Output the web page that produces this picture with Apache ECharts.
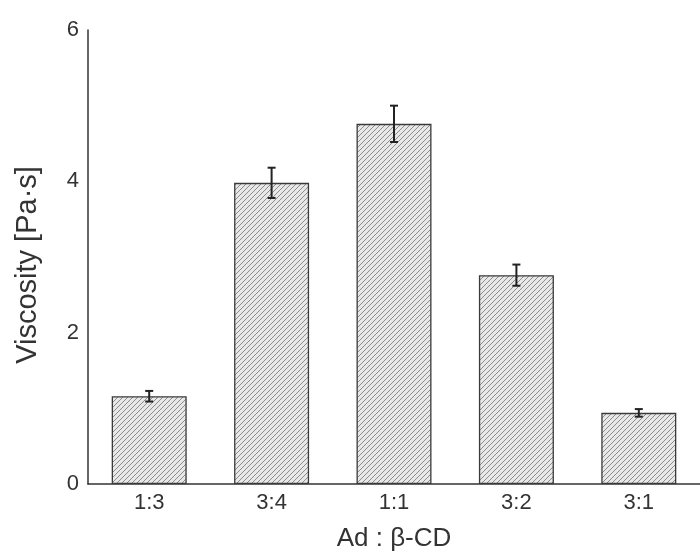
<!DOCTYPE html>
<html>
<head>
<meta charset="utf-8">
<script src="https://cdn.jsdelivr.net/npm/echarts@6/dist/echarts.min.js"></script>
<style>
  html, body { margin: 0; padding: 0; background: #fff; }
  #chart { width: 700px; height: 554px; }
</style>
</head>
<body>
<div id="chart"></div>
<script>
// data
var ratios = ['1:3', '3:4', '1:1', '3:2', '3:1'];
var viscosity = [1.16, 3.98, 4.76, 2.76, 0.94];
var errors = [0.07, 0.20, 0.24, 0.14, 0.05];
var yTicks = [0, 2, 4, 6];

// hatch pattern for the bars
function hatch() {
  var c = document.createElement('canvas');
  c.width = 5;
  c.height = 5;
  var ctx = c.getContext('2d');
  ctx.fillStyle = '#e8e8e8';
  ctx.fillRect(0, 0, 5, 5);
  ctx.strokeStyle = '#8c8c8c';
  ctx.lineWidth = 1;
  ctx.beginPath();
  ctx.moveTo(0, 5); ctx.lineTo(5, 0);
  ctx.moveTo(-2.5, 2.5); ctx.lineTo(2.5, -2.5);
  ctx.moveTo(2.5, 7.5); ctx.lineTo(7.5, 2.5);
  ctx.stroke();
  return c;
}

var errData = ratios.map(function (r, i) {
  return [i, viscosity[i] - errors[i], viscosity[i] + errors[i]];
});

var chart = echarts.init(document.getElementById('chart'));
var option = {
  animation: false,
  textStyle: { fontFamily: 'Liberation Sans' },
  grid: { left: 88, right: 0, top: 30, bottom: 70, outerBoundsMode: 'none', containLabel: false },
  xAxis: {
    type: 'category',
    data: ratios,
    name: 'Ad : β-CD',
    nameLocation: 'middle',
    nameGap: 42,
    nameTextStyle: { fontSize: 26, color: '#333' },
    axisLine: { lineStyle: { color: '#333', width: 1.5 } },
    axisTick: { show: false },
    axisLabel: { fontSize: 22, color: '#333', margin: 8 }
  },
  yAxis: {
    type: 'value',
    min: 0,
    max: 6,
    interval: 2,
    name: 'Viscosity [Pa·s]',
    nameLocation: 'middle',
    nameGap: 46,
    nameTextStyle: { fontSize: 29, color: '#333', padding: [0, 16, 0, 0] },
    axisLine: { show: true, lineStyle: { color: '#333', width: 1.5 } },
    axisTick: { show: false },
    splitLine: { show: false },
    axisLabel: {
      fontSize: 22, color: '#333', margin: 9,
      formatter: function (v) { return yTicks.indexOf(v) >= 0 ? v : ''; }
    }
  },
  series: [
    {
      type: 'bar',
      data: viscosity,
      barWidth: 75,
      itemStyle: {
        color: { image: hatch(), repeat: 'repeat' },
        borderColor: '#3a3a3a',
        borderWidth: 1.3
      }
    },
    {
      type: 'custom',
      data: errData,
      z: 10,
      renderItem: function (params, api) {
        var lo = api.coord([api.value(0), api.value(1)]);
        var hi = api.coord([api.value(0), api.value(2)]);
        var w = 4;
        var style = { stroke: '#222', lineWidth: 2 };
        return {
          type: 'group',
          children: [
            { type: 'line', shape: { x1: hi[0], y1: hi[1], x2: lo[0], y2: lo[1] }, style: style },
            { type: 'line', shape: { x1: hi[0] - w, y1: hi[1], x2: hi[0] + w, y2: hi[1] }, style: style },
            { type: 'line', shape: { x1: lo[0] - w, y1: lo[1], x2: lo[0] + w, y2: lo[1] }, style: style }
          ]
        };
      }
    }
  ]
};
chart.setOption(option);
</script>
</body>
</html>
